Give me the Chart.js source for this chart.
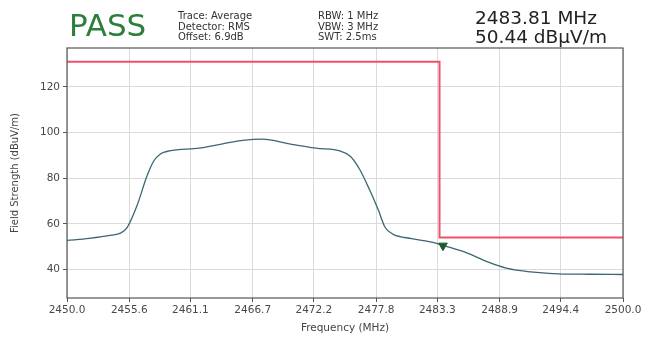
<!DOCTYPE html>
<html>
<head>
<meta charset="utf-8">
<script src="https://cdn.jsdelivr.net/npm/chart.js@4.4.1/dist/chart.umd.min.js"></script>
<style>
  html, body { margin: 0; padding: 0; background: #fff; }
  #wrap { position: relative; width: 649px; height: 339px; font-family: "DejaVu Sans", sans-serif; }
  #c { position: absolute; left: 0; top: 0; }
  .t { position: absolute; white-space: nowrap; color: #333; line-height: 1; }
</style>
</head>
<body>
<div id="wrap">
  <canvas id="c" width="649" height="339"></canvas>
  <div class="t" id="pass" style="left:69px; top:10px; font-size:31px; color:#2a7f3a;">PASS</div>
  <div class="t" style="left:178px; top:11px; font-size:10px; line-height:10.5px;">Trace: Average<br>Detector: RMS<br>Offset: 6.9dB</div>
  <div class="t" style="left:318px; top:11px; font-size:10px; line-height:10.5px;">RBW: 1 MHz<br>VBW: 3 MHz<br>SWT: 2.5ms</div>
  <div class="t" style="left:475px; top:9px; font-size:18.5px; line-height:18.5px; color:#222;">2483.81 MHz<br>50.44 dBµV/m</div>
</div>
<script>
/* ── data ── */
const freqs = [2450.0, 2452.0, 2454.0, 2454.8, 2455.4, 2456.3, 2457.2, 2457.8, 2458.4, 2459.2, 2461.9,
               2465.8, 2467.6, 2470.0, 2472.4, 2474.6, 2475.5, 2476.3, 2477.2, 2478.0, 2478.6, 2479.3,
               2481.0, 2483.0, 2483.81, 2485.8, 2487.9, 2489.5, 2490.6, 2492.5, 2494.2, 2497.0, 2500.0];
const levels = [52.7, 53.6, 55.0, 55.9, 58.3, 68.0, 81.0, 87.5, 90.6, 91.9, 93.1,
                96.5, 97.1, 95.0, 93.1, 91.8, 89.5, 84.0, 75.0, 66.0, 58.5, 55.5,
                53.5, 51.8, 50.6, 47.6, 43.2, 40.6, 39.6, 38.6, 38.1, 37.9, 37.8];

const limitFreqs  = [2450.0, 2483.5, 2483.5, 2500.0];
const limitLevels = [131, 131, 54, 54];

const markerFreq  = 2483.81;
const markerLevel = 50.44;

const xTicks = [2450.0, 2455.6, 2461.1, 2466.7, 2472.2, 2477.8, 2483.3, 2488.9, 2494.4, 2500.0];
const yTicks = [40, 60, 80, 100, 120];

const FONT = "DejaVu Sans";
const GRID = "#dadada";
const AXIS = "#555";

const frame = {
  id: "frame",
  afterDatasetsDraw(chart) {
    const a = chart.chartArea, ctx = chart.ctx;
    ctx.save();
    ctx.strokeStyle = AXIS;
    ctx.lineWidth = 1.2;
    ctx.strokeRect(a.left, a.top, a.right - a.left, a.bottom - a.top);
    ctx.restore();
  }
};

new Chart(document.getElementById("c").getContext("2d"), {
  type: "line",
  data: {
    datasets: [
      { label: "Marker", data: [{ x: markerFreq, y: markerLevel }], showLine: false,
        pointStyle: "triangle", rotation: 180, radius: 5, pointBackgroundColor: "#1d5a2a",
        pointBorderColor: "#1d5a2a", order: 0 },
      { label: "Limit", data: limitFreqs.map((f, i) => ({ x: f, y: limitLevels[i] })),
        borderColor: "#f2506a", borderWidth: 2, pointRadius: 0, tension: 0, order: 1 },
      { label: "Trace", data: freqs.map((f, i) => ({ x: f, y: levels[i] })),
        borderColor: "#3c6672", borderWidth: 1.3, pointRadius: 0, cubicInterpolationMode: "monotone", order: 2 },
    ]
  },
  options: {
    responsive: false, animation: false,
    layout: { padding: { top: 48, right: 26, left: 5, bottom: 0 } },
    plugins: { legend: { display: false }, tooltip: { enabled: false } },
    scales: {
      x: {
        type: "linear", min: 2450, max: 2500,
        afterBuildTicks: s => { s.ticks = xTicks.map(v => ({ value: v })); },
        afterFit: s => { s.height = 41; },
        ticks: { color: "#484848", font: { family: FONT, size: 10.5 }, padding: 2, maxRotation: 0,
          callback: v => v.toFixed(1) },
        grid: { color: GRID, tickColor: AXIS, tickLength: 4 },
        border: { display: false },
        title: { display: true, text: "Frequency (MHz)", color: "#444", font: { family: FONT, size: 10.5 }, padding: { top: 0 } },
      },
      y: {
        min: 27.5, max: 137,
        afterBuildTicks: s => { s.ticks = yTicks.map(v => ({ value: v })); },
        afterFit: s => { s.width = 62; },
        ticks: { color: "#484848", font: { family: FONT, size: 10.5 }, padding: 3 },
        grid: { color: GRID, tickColor: AXIS, tickLength: 4 },
        border: { display: false },
        title: { display: true, text: "Field Strength (dBuV/m)", color: "#444", font: { family: FONT, size: 10 }, padding: { bottom: 4 } },
      }
    }
  },
  plugins: [frame]
});
</script>
</body>
</html>
